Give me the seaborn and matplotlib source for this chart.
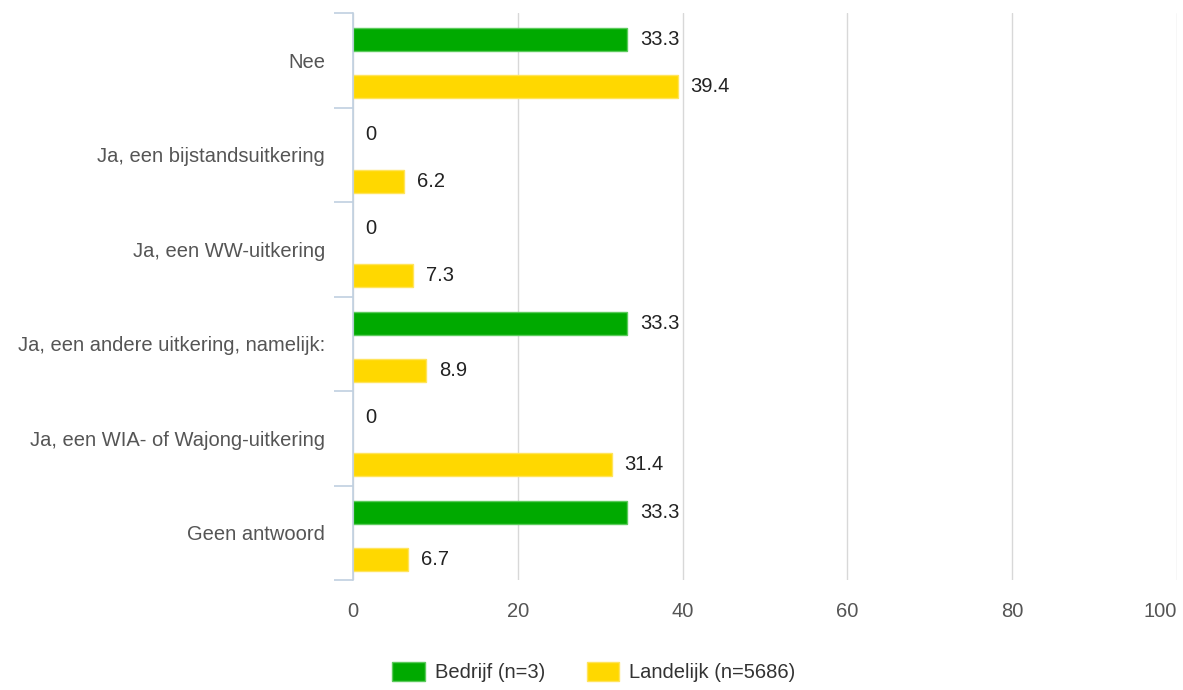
import matplotlib
matplotlib.use("Agg")
import matplotlib.pyplot as plt
import seaborn as sns
import pandas as pd
import numpy as np
from matplotlib.patches import Patch

categories = ["Nee", "Ja, een bijstandsuitkering", "Ja, een WW-uitkering",
              "Ja, een andere uitkering, namelijk:", "Ja, een WIA- of Wajong-uitkering",
              "Geen antwoord"]
series_names = ["Bedrijf (n=3)", "Landelijk (n=5686)"]
bedrijf = [33.3, 0, 0, 33.3, 0, 33.3]
landelijk = [39.4, 6.2, 7.3, 8.9, 31.4, 6.7]
x_ticks = [0, 20, 40, 60, 80, 100]

colors = ["#00AA00", "#FFD800"]
edges = ["#5CCB5C", "#FFE45C"]

df = pd.DataFrame({
    "cat": categories * 2,
    "val": bedrijf + landelijk,
    "series": [series_names[0]] * len(categories) + [series_names[1]] * len(categories),
})

sns.set_theme(style="white")
plt.rcParams['font.family'] = ['Liberation Sans', 'DejaVu Sans']
FS = 14.5

fig = plt.figure(figsize=(11.83, 6.90), dpi=100)
ax = fig.add_axes([353/1183, 1 - 580/690, (1177 - 353)/1183, (580 - 13)/690])

sns.barplot(data=df, y="cat", x="val", hue="series", order=categories,
            hue_order=series_names, palette=colors, orient="h", saturation=1,
            width=0.994, gap=0.51, ax=ax, legend=False, linewidth=1)

for i, bars in enumerate(ax.containers):
    vals = bedrijf if i == 0 else landelijk
    for b, v in zip(bars, vals):
        b.set_edgecolor(edges[i] if v > 0 else "none")
        b.set_y(b.get_y() + 0.03)
    ax.bar_label(bars, labels=[f"{v:g}" for v in vals],
                 padding=9, fontsize=FS, color="#222222")

ax.set_xlim(0, 100)
ax.set_ylim(len(categories) - 0.5, -0.5)
ax.set_xticks(x_ticks)
ax.set_xticklabels([str(t) for t in x_ticks])
ax.get_xticklabels()[-1].set_horizontalalignment("right")
ax.grid(axis="x", color="#D8D8D8", linewidth=1)
ax.set_axisbelow(True)
ax.set_xlabel("")
ax.set_ylabel("")
for s in ["top", "right", "bottom"]:
    ax.spines[s].set_visible(False)
ax.spines["left"].set_color("#C0D0E0")
ax.spines["left"].set_linewidth(1.2)

ax.set_yticks(np.arange(len(categories)))
ax.set_yticklabels(categories)
ax.set_yticks(np.arange(len(categories) + 1) - 0.5, minor=True)
ax.tick_params(axis="y", which="major", length=0, pad=20, labelsize=FS, labelcolor="#555555")
ax.tick_params(axis="y", which="minor", length=14, width=1.2, color="#C0D0E0", left=True)
ax.tick_params(axis="x", which="major", length=0, pad=16, labelsize=FS, labelcolor="#555555")

handles = [Patch(facecolor=colors[i], edgecolor=edges[i], label=series_names[i]) for i in range(2)]
fig.legend(handles=handles, loc="center", bbox_to_anchor=(594/1183, 1 - 672/690), ncol=2,
           frameon=False, fontsize=FS, handlelength=1.6, handleheight=1.05,
           columnspacing=2.1, handletextpad=0.5, labelcolor="#333333")

fig.savefig("out.png", dpi=100)
